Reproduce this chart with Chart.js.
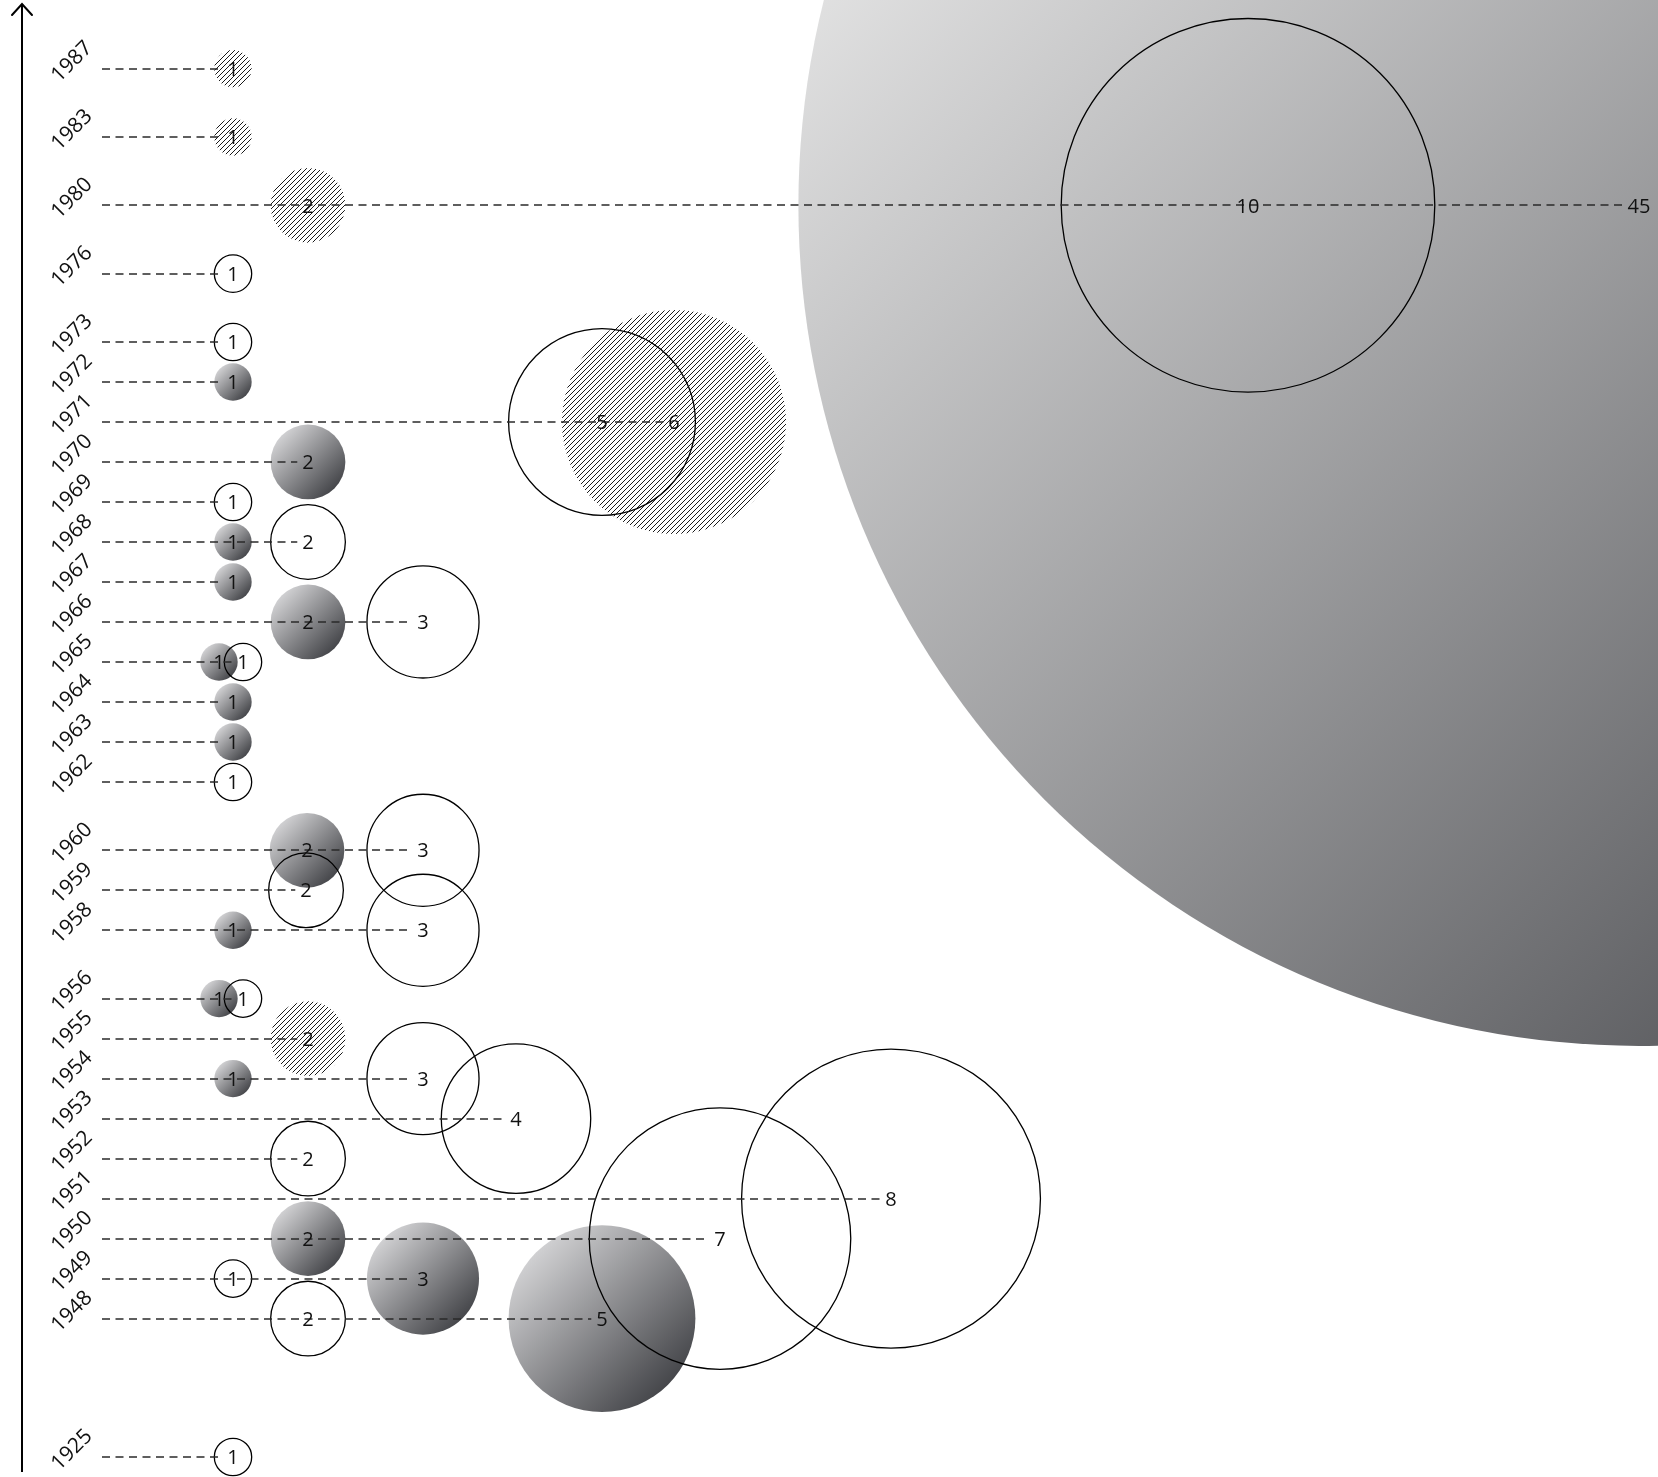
<!DOCTYPE html>
<html>
<head>
<meta charset="utf-8">
<script src="https://cdn.jsdelivr.net/npm/chart.js@4.4.1/dist/chart.umd.min.js"></script>
<style>
html,body{margin:0;padding:0;background:#ffffff;}
canvas{display:block;}
</style>
</head>
<body>
<div style="width:1658px;height:1477px;position:relative">
<canvas id="chart"></canvas>
</div>
<script>
// ---- rows (years shown on the vertical axis, bottom to top) ----
const rowYears = [1925, 1948, 1949, 1950, 1951, 1952, 1953, 1954, 1955, 1956, 1958, 1959, 1960,
  1962, 1963, 1964, 1965, 1966, 1967, 1968, 1969, 1970, 1971, 1972, 1973, 1976, 1980, 1983, 1987];

// ---- series 1: gradient-filled bubbles ----
const filledYears  = [1948, 1949, 1950, 1954, 1956, 1958, 1960, 1963, 1964, 1965, 1966, 1967, 1968, 1970, 1972, 1980];
const filledValues = [5, 3, 2, 1, 1, 1, 2, 1, 1, 1, 2, 1, 1, 2, 1, 45];
const filledX      = [60.2, 42.3, 30.8, 23.3, 21.9, 23.3, 30.7, 23.3, 23.3, 21.9, 30.8, 23.3, 23.3, 30.8, 23.3, 163.9];

// ---- series 2: outlined bubbles ----
const outlineYears  = [1925, 1948, 1949, 1950, 1951, 1952, 1953, 1954, 1956, 1958, 1959, 1960, 1962, 1965, 1966, 1968, 1969, 1971, 1973, 1976, 1980];
const outlineValues = [1, 2, 1, 7, 8, 2, 4, 3, 1, 3, 2, 3, 1, 1, 3, 2, 1, 5, 1, 1, 10];
const outlineX      = [23.3, 30.8, 23.3, 72.0, 89.1, 30.8, 51.6, 42.3, 24.3, 42.3, 30.6, 42.3, 23.3, 24.3, 42.3, 30.8, 23.3, 60.2, 23.3, 23.3, 124.8];

// ---- series 3: hatched bubbles ----
const hatchedYears  = [1955, 1971, 1980, 1983, 1987];
const hatchedValues = [2, 6, 2, 1, 1];
const hatchedX      = [30.8, 67.4, 30.8, 23.3, 23.3];

// ---- axis construction ----
const GAP = 1.708;      // spacing used where years are skipped
const BIG_GAP = 3.46;   // spacing for the long jump 1925 -> 1948
const slotOf = {};
(function () {
  let s = 0;
  rowYears.forEach((yr, i) => {
    if (i > 0) {
      const d = yr - rowYears[i - 1];
      s += d === 1 ? 1 : (d <= 4 ? GAP : BIG_GAP);
    }
    slotOf[yr] = s;
  });
})();

const R_UNIT = 18.68; // bubble radius per unit of value (px)
const LABEL_SIZE = 20;
const LABEL_FONT = LABEL_SIZE + 'px "Open Sans"';
const YEAR_FONT = '21px "Open Sans"';

function buildPoints(years, values, xs) {
  return years.map((yr, i) => ({ x: xs[i], y: slotOf[yr], r: values[i] * R_UNIT, v: values[i], year: yr }));
}

function gradientFill(c) {
  const raw = c.raw;
  const chart = c.chart;
  if (!raw || !chart.scales || !chart.scales.x || !chart.scales.y) return '#8a8a8c';
  const cx = chart.scales.x.getPixelForValue(raw.x);
  const cy = chart.scales.y.getPixelForValue(raw.y);
  const r = raw.r;
  if (!isFinite(cx) || !isFinite(cy) || !isFinite(r)) return '#8a8a8c';
  const k = 0.707 * r;
  const g = chart.ctx.createLinearGradient(cx - k, cy - k, cx + k, cy + k);
  if (r > 300) {
    g.addColorStop(0, '#ebebeb');
    g.addColorStop(1, '#4b4c50');
  } else {
    g.addColorStop(0, '#d0d0d2');
    g.addColorStop(1, '#46474b');
  }
  return g;
}

function hatchPattern() {
  const t = 5;
  const c = document.createElement('canvas');
  c.width = t; c.height = t;
  const g = c.getContext('2d');
  g.strokeStyle = '#000';
  g.lineWidth = 0.9;
  g.beginPath();
  g.moveTo(0, t); g.lineTo(t, 0);
  g.moveTo(-1, 1); g.lineTo(1, -1);
  g.moveTo(t - 1, t + 1); g.lineTo(t + 1, t - 1);
  g.stroke();
  return document.getElementById('chart').getContext('2d').createPattern(c, 'repeat');
}

const filledPts = buildPoints(filledYears, filledValues, filledX);
const outlinePts = buildPoints(outlineYears, outlineValues, outlineX);
const hatchedPts = buildPoints(hatchedYears, hatchedValues, hatchedX);
const allPts = filledPts.concat(outlinePts, hatchedPts);

const overlay = {
  id: 'overlay',
  beforeDatasetsDraw(chart) {
    const ctx = chart.ctx;
    const ys = chart.scales.y;
    const area = chart.chartArea;
    ctx.save();
    // vertical axis with arrow
    ctx.strokeStyle = '#000';
    ctx.lineWidth = 2;
    ctx.beginPath();
    ctx.moveTo(area.left, area.bottom);
    ctx.lineTo(area.left, area.top);
    ctx.stroke();
    ctx.lineCap = 'round';
    ctx.beginPath();
    ctx.moveTo(area.left - 10, area.top + 11);
    ctx.lineTo(area.left, area.top);
    ctx.lineTo(area.left + 10, area.top + 11);
    ctx.stroke();
    // year labels (rotated)
    ctx.fillStyle = '#111';
    ctx.font = YEAR_FONT;
    ctx.textAlign = 'center';
    ctx.textBaseline = 'middle';
    rowYears.forEach(yr => {
      const yPix = ys.getPixelForValue(slotOf[yr]);
      ctx.save();
      ctx.translate(area.left + 50, yPix - 7);
      ctx.rotate(-Math.PI / 4);
      ctx.fillText(String(yr), 0, 0);
      ctx.restore();
    });
    ctx.restore();
  },
  afterDatasetsDraw(chart) {
    const ctx = chart.ctx;
    const xs = chart.scales.x, ys = chart.scales.y;
    ctx.save();
    ctx.font = LABEL_FONT;
    // dashed leader lines
    ctx.setLineDash([8, 5.5]);
    ctx.lineWidth = 1.4;
    ctx.strokeStyle = '#2a2a2a';
    rowYears.forEach(yr => {
      const items = allPts.filter(p => p.year === yr);
      if (!items.length) return;
      const last = items.reduce((a, b) => (b.x > a.x ? b : a));
      const yPix = Math.round(ys.getPixelForValue(slotOf[yr]));
      const xEnd = xs.getPixelForValue(last.x) - ctx.measureText(String(last.v)).width / 2 - 5;
      ctx.beginPath();
      ctx.moveTo(102, yPix);
      ctx.lineTo(xEnd, yPix);
      ctx.stroke();
    });
    ctx.setLineDash([]);
    // value labels
    ctx.fillStyle = '#111';
    ctx.textAlign = 'center';
    ctx.textBaseline = 'alphabetic';
    chart.data.datasets.forEach((ds, di) => {
      const meta = chart.getDatasetMeta(di);
      meta.data.forEach((el, i) => {
        ctx.fillText(String(ds.data[i].v), el.x, el.y + LABEL_SIZE * 0.36);
      });
    });
    ctx.restore();
  }
};

new Chart(document.getElementById('chart'), {
  type: 'bubble',
  data: {
    datasets: [
      { label: 'outlined', data: outlinePts, order: 1, clip: false,
        backgroundColor: 'rgba(0,0,0,0)', borderColor: '#000', borderWidth: 1.3 },
      { label: 'hatched', data: hatchedPts, order: 2, clip: false,
        backgroundColor: hatchPattern(), borderWidth: 0 },
      { label: 'filled', data: filledPts, order: 3, clip: false,
        backgroundColor: gradientFill, borderWidth: 0 }
    ]
  },
  options: {
    responsive: true,
    maintainAspectRatio: false,
    animation: false,
    events: [],
    layout: { autoPadding: false, padding: { top: 4, bottom: 5, left: 22, right: 0 } },
    plugins: { legend: { display: false }, tooltip: { enabled: false } },
    scales: {
      x: { type: 'linear', display: false, min: 2.2, max: 165.8 },
      y: { type: 'linear', display: false, min: -0.375, max: 36.325 }
    }
  },
  plugins: [overlay]
});
</script>
</body>
</html>
